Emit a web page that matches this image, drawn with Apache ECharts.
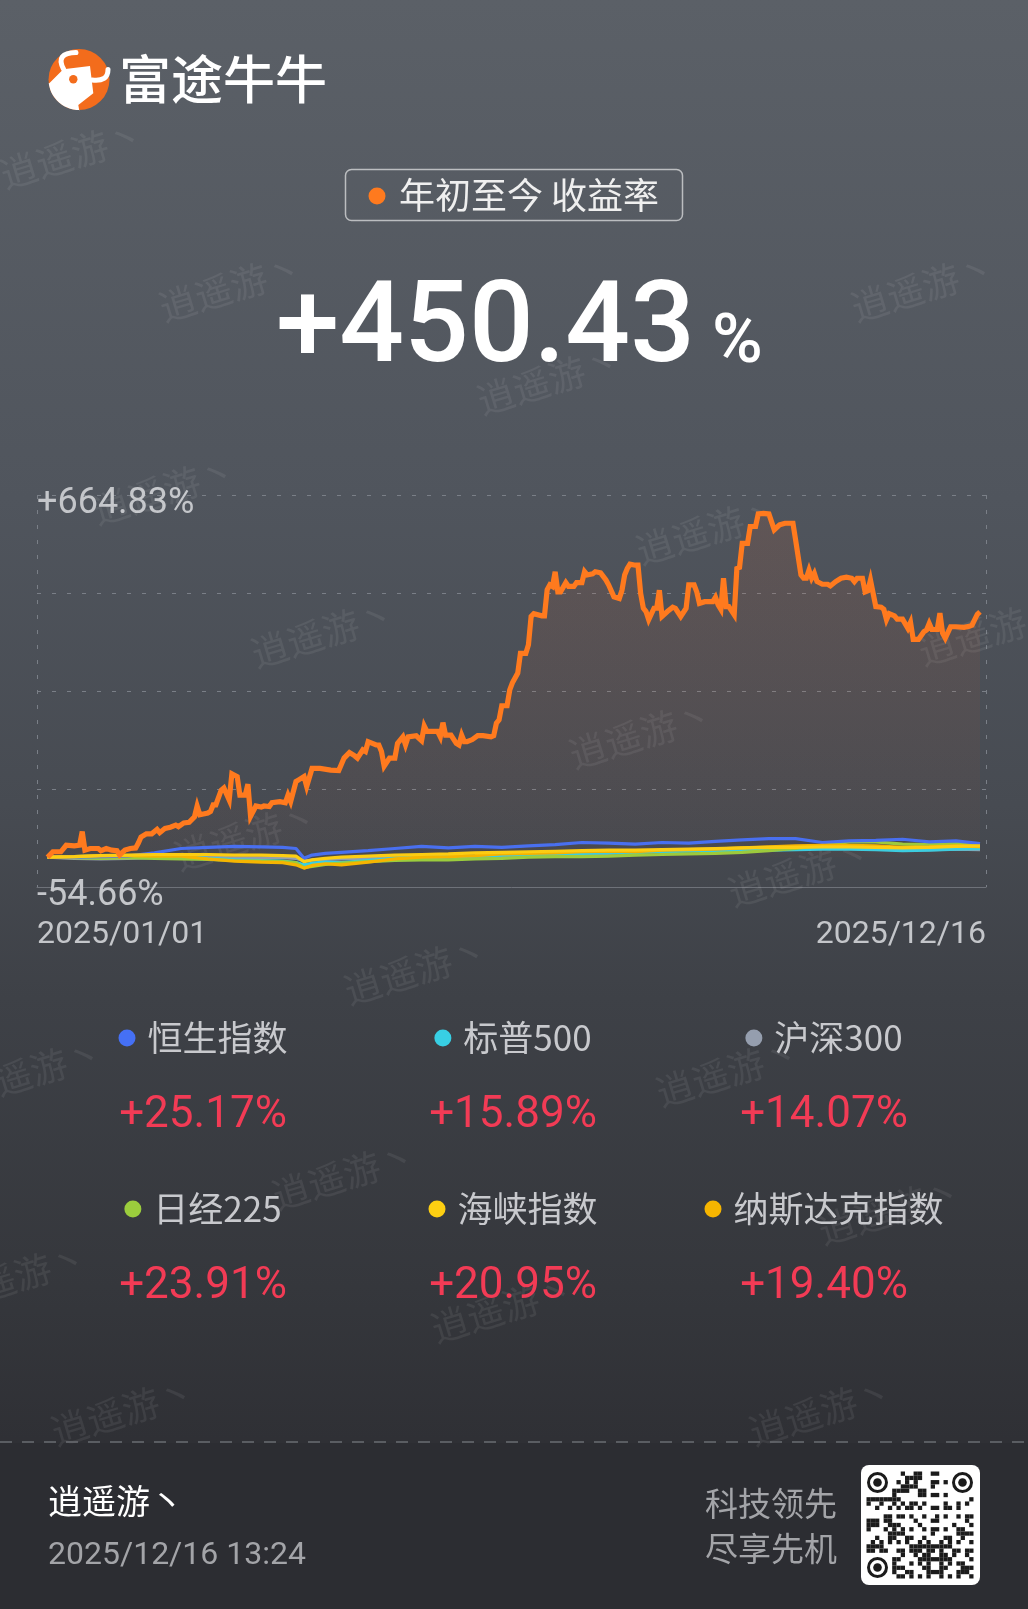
<!DOCTYPE html>
<html>
<head>
<meta charset="utf-8">
<script src="https://cdn.jsdelivr.net/npm/echarts@6.0.0/dist/echarts.min.js"></script>
<style>
html,body{margin:0;padding:0;background:#2c2d32;}
#chart{width:1028px;height:1609px;}
</style>
</head>
<body>
<div id="chart"></div>
<script>
// ---------------- DATA ----------------
// day offset from 2025/01/01 (calendar days) and YTD return (%)
const orangeDays = [0,2,5,7,10,12,13,14,16,19,20,22,24,26,27,29,31,33,34,35,37,39,41,42,44,46,48,49,51,53,55,56,57,60,61,62,63,65,66,68,69,71,72,74,75,76,78,80,81,83,84,87,89,90,91,93,94,96,97,99,102,106,109,111,113,115,116,118,119,120,123,124,125,126,128,130,131,133,134,135,138,140,141,142,146,147,148,149,151,153,154,155,156,157,159,161,163,166,167,168,169,170,172,173,174,176,177,179,180,181,182,185,186,187,188,189,190,191,192,194,195,197,198,200,201,202,204,205,207,209,210,212,214,215,216,217,218,220,221,222,223,224,225,227,228,229,230,232,234,235,237,239,240,242,243,244,246,249,250,251,252,253,254,255,257,258,259,260,262,263,265,266,268,270,272,274,276,279,280,282,283,284,285,286,287,288,290,292,293,295,297,299,301,302,303,305,306,307,308,310,312,313,314,315,317,318,320,322,323,324,326,328,329,330,331,333,334,335,336,338,340,343,345,346,348,349];
const orangeValues = [0,10,10,22,21,22,47,13,16,16,12,16,13,12,4,13,16,17,26,37,43,43,51,45,53,55,59,56,63,64,74,94,78,81,84,96,96,123,127,105,153,148,114,114,134,75,94,92,94,93,100,102,100,114,102,139,142,148,130,163,163,160,159,182,192,186,182,197,194,212,206,206,194,167,182,182,209,221,206,221,223,214,241,231,231,221,247,224,224,209,206,224,212,212,216,223,223,221,223,246,252,278,278,307,320,338,374,374,390,442,447,443,443,491,500,497,524,487,487,504,497,497,504,504,524,518,520,524,522,509,500,478,475,490,518,530,538,536,536,484,457,451,436,457,457,490,442,451,459,457,442,457,500,500,487,466,469,469,477,463,455,512,460,460,445,530,532,576,576,607,607,630,631,630,601,610,613,613,582,518,512,512,527,512,521,506,501,501,498,506,512,514,512,506,512,512,487,489,509,460,459,455,436,447,443,437,437,420,431,400,400,414,417,429,418,418,448,411,402,423,423,422,424,426,446,450.43];

const indexDays = [0,10,20,30,40,50,60,70,80,88,93,96,99,104,110,120,130,140,150,160,170,180,190,200,210,220,230,240,250,260,270,280,290,300,310,320,330,340,349];
const hsiValues     = [0,0,1,2,8,16,18,20,19,18,16,-2,4,7,9,12,16,20,17,20,18,21,23,27,26,24,27,26,29,32,34,34,27,30,31,33,28,30,25.17];
const spValues      = [0,1,2,3,3,2,-2,-5,-6,-7,-10,-14,-11,-9,-10,-6,-2,0,1,2,4,5,6,7,8,9,10,11,12,13,13,14,15,15,14,12,13,15,15.89];
const csiValues     = [0,-2,-3,-2,-1,0,0,-1,-1,-1,-2,-7,-5,-4,-3,-2,-1,-1,0,0,1,2,3,5,7,9,11,13,15,16,17,17,18,17,16,14,14,15,14.07];
const nikkeiValues  = [0,-1,-2,-1,-2,-3,-4,-6,-7,-8,-10,-19,-17,-13,-11,-8,-6,-5,-5,-3,-2,0,1,1,2,4,5,6,7,9,12,16,22,28,28,24,23,25,23.91];
const straitsValues = [0,1,3,4,5,5,5,4,4,3,2,-8,-5,-2,0,2,4,5,6,8,9,10,11,12,13,13,14,15,16,17,18,18,19,19,18,17,18,20,20.95];
const nasdaqValues  = [0,1,3,3,2,2,-3,-7,-9,-10,-14,-20,-15,-12,-14,-9,-3,0,1,3,6,7,8,10,11,10,13,14,15,17,19,21,22,22,21,18,19,21,19.4];

const legendNames  = ['恒生指数','标普500','沪深300','日经225','海峡指数','纳斯达克指数'];
const legendValues = ['+25.17%','+15.89%','+14.07%','+23.91%','+20.95%','+19.40%'];
const legendColors = ['#4570f5','#38cfe4','#959eae','#9bcd3d','#fdcf12','#f6b500'];
const indexSeriesValues = [hsiValues, spValues, csiValues, nikkeiValues, straitsValues, nasdaqValues];

const yTickLabels = ['-54.66%','','','','+664.83%'];
const yMin = -54.66, yMax = 664.83;
const xTickLabels = ['2025/01/01','2025/12/16'];
const mainColor = '#ff7a1e';
const headlineValue = '+450.43';
const headlineUnit = '%';
const titleText = '年初至今 收益率';
const brandText = '富途牛牛';
const userName = '逍遥游丶';
const stampText = '2025/12/16 13:24';
const sloganLines = ['科技领先','尽享先机'];
const watermarkText = '逍遥游丶';

// ---------------- LAYOUT ----------------
const W = 1028, H = 1609;
const gridLeft = 37, gridRight = 986, gridTop = 495, gridBottom = 887;
const firstX = 47.5, lastX = 980;
const dayLast = orangeDays[orangeDays.length - 1];
const daysPerPx = (dayLast - orangeDays[0]) / (lastX - firstX);
const xMin = orangeDays[0] - (firstX - gridLeft) * daysPerPx;
const xMax = dayLast + (gridRight - lastX) * daysPerPx;

const CJK = '"Noto Sans CJK SC", "Noto Sans", sans-serif';
const NUM = 'Roboto, "Noto Sans", sans-serif';

const mctx = document.createElement('canvas').getContext('2d');
function textWidth(t, font) { mctx.font = font; return mctx.measureText(t).width; }

const g = [];
// page background
g.push({type:'rect', z:-10, silent:true, shape:{x:0,y:0,width:W,height:H},
  style:{fill:new echarts.graphic.LinearGradient(0,0,0,1,[
    {offset:0,color:'#5b6067'},{offset:0.31,color:'#50555d'},{offset:0.5,color:'#474b52'},
    {offset:0.62,color:'#3e4147'},{offset:0.8,color:'#35373c'},{offset:0.895,color:'#2f3035'},{offset:1,color:'#2b2c31'}])}});
g.push({type:'rect', z:-9, silent:true, shape:{x:0,y:1443,width:W,height:H-1443}, style:{fill:'#2c2d32'}});

// watermarks
const wmPos = [[72,154],[231,287],[549,380],[923,287],[164,490],[708,530],[323,633],[641,734],[990,631],[246,836],[800,872],[416,970],[31,1072],[728,1072],[344,1175],[890,1210],[15,1277],[503,1308],[821,1411],[123,1411]];
wmPos.forEach(p => g.push({type:'text', z:1, silent:true, x:p[0], y:p[1], rotation:17*Math.PI/180,
  style:{text:watermarkText, fill:'rgba(255,255,255,0.07)', fontSize:37, fontFamily:CJK, align:'center', verticalAlign:'middle', textAlign:'center', textVerticalAlign:'middle'}}));

// logo
const lc = [79, 79.5], lr = 30.5;
g.push({type:'circle', z:10, silent:true, shape:{cx:lc[0],cy:lc[1],r:lr}, style:{fill:'#f36c1c'}});
const facePts = [[49.3,83.3],[63.3,69.3],[90,66],[93.3,93.3],[78.3,105],[79.3,110.7]];
for (let a = 89; a <= 173; a += 6) {
  const r = a * Math.PI / 180;
  facePts.push([lc[0] + lr * Math.cos(r), lc[1] + lr * Math.sin(r)]);
}
g.push({type:'polygon', z:11, silent:true, shape:{points:facePts}, style:{fill:'#ffffff'}});
g.push({type:'bezierCurve', z:11, silent:true, shape:{x1:63.5,y1:69,cpx1:55,cpy1:53,x2:76,y2:52.5}, style:{stroke:'#ffffff', lineWidth:5, lineCap:'round', fill:null}});
g.push({type:'bezierCurve', z:11, silent:true, shape:{x1:92,y1:80,cpx1:108,cpy1:82,x2:108,y2:69.5}, style:{stroke:'#ffffff', lineWidth:5, lineCap:'round', fill:null}});
g.push({type:'circle', z:12, silent:true, shape:{cx:73.3,cy:79.3,r:4.2}, style:{fill:'#f36c1c'}});
g.push({type:'text', z:10, silent:true, x:119, y:79, style:{text:brandText, fill:'#ffffff', fontSize:52, fontWeight:500, fontFamily:CJK, align:'left', verticalAlign:'middle', textAlign:'left', textVerticalAlign:'middle'}});

// title pill
g.push({type:'rect', z:10, silent:true, shape:{x:345.5,y:169.5,width:337,height:51,r:6}, style:{fill:'rgba(0,0,0,0)', stroke:'rgba(255,255,255,0.6)', lineWidth:1.5}});
g.push({type:'circle', z:10, silent:true, shape:{cx:377,cy:196,r:8.5}, style:{fill:mainColor}});
g.push({type:'text', z:10, silent:true, x:399, y:195, style:{text:titleText, fill:'#efefef', fontSize:36, fontFamily:CJK, align:'left', verticalAlign:'middle', textAlign:'left', textVerticalAlign:'middle'}});

// headline
g.push({type:'text', z:10, silent:true, x:276, y:332, style:{text:headlineValue, fill:'#ffffff', fontSize:114, fontWeight:500, fontFamily:NUM, align:'left', verticalAlign:'middle', textAlign:'left', textVerticalAlign:'middle'}});
g.push({type:'text', z:10, silent:true, x:712, y:345, style:{text:headlineUnit, fill:'#ffffff', fontSize:69, fontWeight:500, fontFamily:NUM, align:'left', verticalAlign:'middle', textAlign:'left', textVerticalAlign:'middle'}});

// legend grid
const colCenters = [203, 513, 824];
const rowLabelY = [1038, 1209];
const rowValueY = [1115.5, 1286.5];
legendNames.forEach((name, i) => {
  const col = i % 3, row = Math.floor(i / 3);
  const cx = colCenters[col];
  const w = textWidth(name, '35px ' + CJK);
  const dotR = 8.5, gap = 12;
  const left = cx - (dotR * 2 + gap + w) / 2;
  g.push({type:'circle', z:10, silent:true, shape:{cx:left + dotR, cy:rowLabelY[row], r:dotR}, style:{fill:legendColors[i]}});
  g.push({type:'text', z:10, silent:true, x:left + dotR * 2 + gap, y:rowLabelY[row], style:{text:name, fill:'#c8c9cd', fontSize:35, fontFamily:CJK, align:'left', verticalAlign:'middle', textAlign:'left', textVerticalAlign:'middle'}});
  g.push({type:'text', z:10, silent:true, x:cx, y:rowValueY[row], style:{text:legendValues[i], fill:'#f23b55', fontSize:44, fontFamily:NUM, align:'center', verticalAlign:'middle', textAlign:'center', textVerticalAlign:'middle'}});
});

// separator
g.push({type:'line', z:10, silent:true, shape:{x1:0,y1:1442,x2:W,y2:1442}, style:{stroke:'#6a6c71', lineWidth:1.5, lineDash:[12,10]}});

// footer
g.push({type:'text', z:10, silent:true, x:48, y:1501, style:{text:userName, fill:'#ffffff', fontSize:34, fontFamily:CJK, align:'left', verticalAlign:'middle', textAlign:'left', textVerticalAlign:'middle'}});
g.push({type:'text', z:10, silent:true, x:48, y:1556, style:{text:stampText, fill:'#a3a4a8', fontSize:32, fontFamily:NUM, align:'left', verticalAlign:'middle', textAlign:'left', textVerticalAlign:'middle'}});
sloganLines.forEach((t, i) => g.push({type:'text', z:10, silent:true, x:837, y:1503 + i * 45, style:{text:t, fill:'#a3a4a8', fontSize:33, fontFamily:CJK, align:'right', verticalAlign:'middle', textAlign:'right', textVerticalAlign:'middle'}}));

// QR code (decorative)
g.push({type:'rect', z:10, silent:true, shape:{x:861,y:1465,width:119,height:120,r:8}, style:{fill:'#ffffff'}});
const qN = 25, qCell = 4.28, qx = 866.5, qy = 1471.5;
for (let i = 0; i < qN; i++) {
  for (let j = 0; j < qN; j++) {
    const inFinder = (i < 6 && j < 6) || (i < 6 && j >= qN - 6) || (i >= qN - 6 && j < 6);
    if (inFinder) continue;
    const h = (i * 73 + j * 151 + i * j * 29 + ((i ^ j) * 17)) % 11;
    if (h < 5) g.push({type:'rect', z:11, silent:true, shape:{x:qx + j * qCell, y:qy + i * qCell, width:qCell, height:qCell}, style:{fill:'#1b1b1b'}});
  }
}
[[qx + 11, qy + 11], [qx + qN * qCell - 11, qy + 11], [qx + 11, qy + qN * qCell - 11]].forEach(c => {
  g.push({type:'circle', z:11, silent:true, shape:{cx:c[0], cy:c[1], r:9}, style:{fill:'rgba(0,0,0,0)', stroke:'#1b1b1b', lineWidth:3}});
  g.push({type:'circle', z:11, silent:true, shape:{cx:c[0], cy:c[1], r:4.3}, style:{fill:'#1b1b1b'}});
});

// ---------------- SERIES ----------------
const drawOrder = [2, 1, 3, 0, 5, 4]; // csi, sp, nikkei, hsi, nasdaq, straits
const series = drawOrder.map(k => ({
  type:'line', name:legendNames[k], silent:true, showSymbol:false, symbol:'none',
  data:indexDays.map((d, i) => [d, indexSeriesValues[k][i]]),
  lineStyle:{color:legendColors[k], width:3.2}, itemStyle:{color:legendColors[k]}, z:3
}));
series.push({
  type:'line', name:'年初至今收益率', silent:true, showSymbol:false, symbol:'none',
  data:orangeDays.map((d, i) => [d, orangeValues[i]]),
  lineStyle:{color:mainColor, width:5.2, join:'miter', miterLimit:5},
  itemStyle:{color:mainColor},
  areaStyle:{color:new echarts.graphic.LinearGradient(0,0,0,1,[
    {offset:0, color:'rgba(230,95,35,0.16)'},{offset:1, color:'rgba(230,95,35,0.03)'}])},
  z:5
});

const chart = echarts.init(document.getElementById('chart'), null, {renderer:'canvas'});
chart.setOption({
  animation:false,
  backgroundColor:'#44474e',
  graphic:{elements:g},
  grid:{left:gridLeft, right:W - gridRight, top:gridTop, bottom:H - gridBottom, containLabel:false, outerBoundsMode:'none'},
  xAxis:{
    type:'value', min:xMin, max:xMax, interval:xMax - xMin,
    axisLine:{show:true, onZero:false, lineStyle:{color:'#6e7279', width:1}},
    axisTick:{show:false},
    splitLine:{show:true, lineStyle:{color:'#7a7f87', width:1, type:[4,11]}},
    axisLabel:{show:true, margin:32, color:'#c4c6ca', fontSize:32, fontFamily:NUM,
      alignMinLabel:'left', alignMaxLabel:'right', showMinLabel:true, showMaxLabel:true,
      formatter:(v, i) => xTickLabels[i] || ''}
  },
  yAxis:{
    type:'value', min:yMin, max:yMax, interval:(yMax - yMin) / 4,
    axisLine:{show:false}, axisTick:{show:false},
    splitLine:{show:true, lineStyle:{color:'#7a7f87', width:1, type:[4,11]}},
    axisLabel:{show:true, inside:true, margin:0, color:'#c4c6ca', fontSize:36, fontFamily:NUM,
      verticalAlign:'top', lineHeight:17, showMinLabel:true, showMaxLabel:true,
      formatter:(v, i) => yTickLabels[i] || ''}
  },
  series:series
});
</script>
</body>
</html>
